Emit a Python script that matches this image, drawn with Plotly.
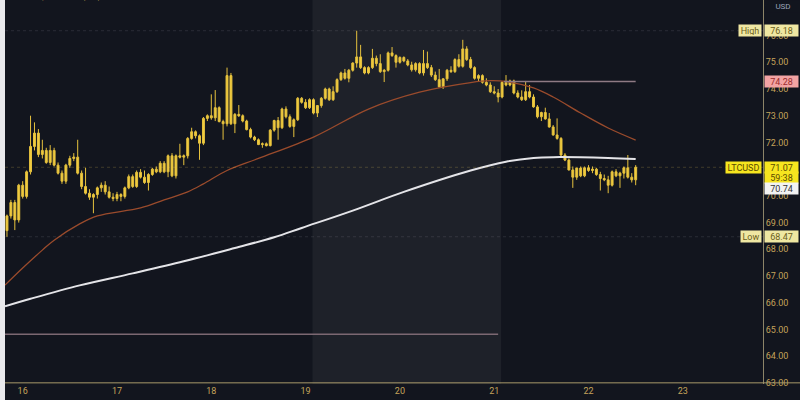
import pandas as pd
import plotly.graph_objects as go

# ---------------- data ----------------
start_time = "2022-11-15 20:00"

opens = [68.70,69.25,69.75,69.10,70.40,69.98,70.90,71.85,72.35,71.55,
         71.70,71.25,71.70,71.15,70.85,70.55,71.15,71.40,71.45,70.85,
         70.35,70.10,69.95,70.05,70.30,70.40,70.15,69.95,69.90,70.05,
         69.98,70.30,70.72,70.35,70.88,70.70,70.50,70.80,71.00,70.90,
         71.22,70.90,71.50,70.75,71.50,71.45,71.50,72.15,72.40,72.25,
         71.97,72.90,73.00,72.92,73.30,72.78,72.70,74.50,72.70,73.05,
         73.00,72.80,72.48,72.20,72.10,71.92,71.95,71.88,72.46,72.82,
         72.55,73.25,72.96,72.60,72.85,73.65,73.50,73.30,73.60,73.10,
         73.38,73.65,74.00,73.60,73.90,74.35,74.60,74.40,74.70,74.97,
         75.20,74.80,74.60,74.80,75.15,74.95,74.65,74.70,75.35,75.25,
         75.00,75.18,75.05,74.90,74.72,74.95,74.60,74.95,74.80,74.52,
         74.35,74.08,74.38,74.70,74.65,75.10,74.85,75.50,75.10,74.80,
         74.40,74.50,74.25,74.15,73.90,73.85,73.70,74.25,74.15,74.30,
         73.85,73.70,73.60,73.90,73.70,73.33,72.96,73.12,72.88,72.58,
         72.28,72.15,71.53,71.34,70.97,70.70,71.04,70.75,71.05,70.95,
         71.00,70.80,70.65,70.60,70.40,70.90,70.75,70.85,71.05,70.70,
         70.60]
highs = [69.30,69.85,69.85,70.45,70.55,70.95,73.00,72.75,72.50,72.10,
         71.80,71.90,71.80,71.25,70.95,71.20,71.50,71.60,72.10,70.95,
         71.05,70.25,70.10,70.35,70.50,70.55,70.35,70.10,70.15,70.10,
         70.35,70.80,70.80,70.95,71.00,70.95,70.85,71.05,71.10,71.30,
         71.30,71.55,71.60,71.55,71.95,71.55,72.20,72.55,72.45,72.30,
         72.95,73.05,73.80,73.96,73.35,72.85,74.80,74.60,73.10,73.40,
         73.05,72.85,72.55,72.25,72.15,72.00,72.00,72.50,72.85,72.95,
         73.30,73.35,73.05,72.90,73.70,73.70,73.62,73.65,73.65,73.40,
         73.70,74.05,74.05,74.10,74.40,74.65,74.75,74.75,75.00,76.18,
         75.65,74.85,74.85,75.50,75.25,75.30,74.75,75.40,75.57,75.30,
         75.22,75.22,75.12,75.02,75.00,75.00,75.46,75.40,74.90,74.65,
         74.75,74.40,74.75,74.85,75.15,75.30,75.84,75.60,75.20,74.85,
         74.55,74.55,74.40,74.25,74.10,74.00,74.30,74.52,74.35,74.35,
         73.95,73.95,74.30,74.15,73.80,73.40,73.15,73.30,73.10,72.65,
         72.90,72.20,71.60,71.40,71.10,71.05,71.10,71.10,71.15,71.10,
         71.05,70.90,70.80,70.75,70.95,71.00,70.90,71.10,71.53,70.85,
         71.15]
lows = [68.47,69.15,68.72,69.00,69.90,69.90,70.80,71.70,71.45,71.40,
        71.20,71.15,71.10,70.80,70.45,70.45,71.05,71.30,70.80,70.25,
        70.05,69.85,69.35,69.90,70.15,70.05,69.90,69.80,69.80,69.80,
        69.90,70.25,70.30,70.30,70.65,70.45,70.20,70.75,70.85,70.85,
        70.85,70.70,70.70,70.65,71.40,71.15,71.40,72.10,72.15,71.35,
        71.90,72.80,72.85,72.80,72.75,72.10,72.60,72.65,72.35,72.95,
        72.75,72.45,72.15,72.05,71.90,71.80,71.85,71.85,72.40,72.10,
        72.50,72.90,72.55,72.20,72.80,73.45,73.25,73.25,73.05,72.95,
        73.30,73.60,73.55,73.55,73.85,74.30,74.35,74.25,74.65,74.80,
        74.75,74.55,74.55,74.75,74.85,74.60,74.26,74.65,75.20,74.80,
        74.95,75.00,74.85,74.65,74.65,74.55,74.50,74.75,74.45,74.30,
        74.05,74.00,74.30,74.60,74.60,74.80,74.80,75.05,74.75,74.35,
        74.30,74.20,74.10,73.85,73.80,73.50,73.65,74.10,74.10,73.80,
        73.65,73.55,73.55,73.65,73.30,72.90,72.80,72.85,72.55,72.25,
        72.10,71.45,71.30,70.95,70.30,70.60,70.70,70.70,70.90,70.85,
        70.75,70.20,70.55,70.10,70.35,70.70,70.30,70.65,70.65,70.50,
        70.40]
closes = [69.25,69.75,69.10,70.40,69.98,70.90,71.85,72.35,71.55,71.70,
          71.25,71.70,71.15,70.85,70.55,71.15,71.40,71.45,70.85,70.35,
          70.10,69.95,70.05,70.30,70.40,70.15,69.95,69.90,70.05,69.98,
          70.30,70.72,70.35,70.88,70.70,70.50,70.80,71.00,70.90,71.22,
          70.90,71.50,70.75,71.50,71.45,71.50,72.15,72.40,72.25,71.97,
          72.90,73.00,72.92,73.30,72.78,72.70,74.50,72.70,73.05,73.00,
          72.80,72.48,72.20,72.10,71.92,71.95,71.88,72.46,72.82,72.55,
          73.25,72.96,72.60,72.85,73.65,73.50,73.30,73.60,73.10,73.38,
          73.65,74.00,73.60,73.90,74.35,74.60,74.40,74.70,74.97,75.20,
          74.80,74.60,74.80,75.15,74.95,74.65,74.70,75.35,75.25,75.00,
          75.18,75.05,74.90,74.72,74.95,74.60,74.95,74.80,74.52,74.35,
          74.08,74.38,74.70,74.65,75.10,74.85,75.50,75.10,74.80,74.40,
          74.50,74.25,74.15,73.90,73.85,73.70,74.25,74.15,74.30,73.85,
          73.70,73.60,73.90,73.70,73.33,72.96,73.12,72.88,72.58,72.28,
          72.15,71.53,71.34,70.97,70.70,71.04,70.75,71.05,70.95,71.00,
          70.80,70.65,70.60,70.40,70.90,70.75,70.85,71.05,70.70,70.60,
          71.07]

# 50-period MA (orange)
ma50_time = ["2022-11-15 19:30","2022-11-16 00:00","2022-11-16 05:00","2022-11-16 08:00",
             "2022-11-16 14:30","2022-11-16 19:00","2022-11-17 06:00","2022-11-17 12:00",
             "2022-11-17 18:00","2022-11-17 22:00","2022-11-18 04:00","2022-11-18 12:00",
             "2022-11-19 02:00","2022-11-19 16:00","2022-11-20 05:00","2022-11-20 18:00",
             "2022-11-20 23:00","2022-11-21 03:00","2022-11-21 10:00","2022-11-21 15:00",
             "2022-11-21 22:00","2022-11-22 05:00","2022-11-22 12:00"]
ma50_val = [66.66,67.30,67.97,68.34,68.95,69.25,69.55,69.85,70.15,70.45,70.95,71.40,
            72.20,73.25,73.88,74.24,74.31,74.28,74.04,73.70,73.10,72.54,72.09]

# 200-period MA (white)
ma200_time = ["2022-11-15 19:30","2022-11-16 02:00","2022-11-16 14:30","2022-11-17 04:00",
              "2022-11-17 17:00","2022-11-18 06:00","2022-11-18 16:00","2022-11-18 23:00",
              "2022-11-19 12:00","2022-11-20 01:00","2022-11-20 18:00","2022-11-21 03:00",
              "2022-11-21 10:00","2022-11-21 15:00","2022-11-22 05:00","2022-11-22 12:00"]
ma200_val = [65.87,66.15,66.65,67.10,67.55,68.05,68.45,68.80,69.45,70.15,70.95,71.28,
             71.42,71.45,71.42,71.38]

# horizontal levels
level_upper = 74.28
level_upper_span = ["2022-11-21 02:30", "2022-11-22 12:00"]
level_lower = 64.82
level_lower_span = ["2022-11-15 19:30", "2022-11-21 01:00"]
weekend_span = ["2022-11-19 01:45", "2022-11-21 01:45"]
x_range = ["2022-11-15 19:30", "2022-11-23 20:24"]
y_range = [62.96, 77.33]

high_val, low_val, last_val, mark_val = 76.18, 68.47, 71.07, 70.74
countdown = "59:38"
title_text = "Litecoin / U.S. Dollar, 1H, COINBASE"

# ---------------- figure ----------------
BG = "#12151e"
GOLD = "#c4a35a"
times = pd.date_range(start_time, periods=len(closes), freq="h")

fig = go.Figure()
fig.add_trace(go.Candlestick(
    x=times, open=opens, high=highs, low=lows, close=closes,
    increasing=dict(line=dict(color="#e6c23e", width=1), fillcolor="#f2cd3f"),
    decreasing=dict(line=dict(color="#e6c23e", width=1), fillcolor="#f2cd3f"),
    whiskerwidth=0, showlegend=False, hoverinfo="skip"))
fig.add_trace(go.Scatter(x=pd.to_datetime(ma50_time), y=ma50_val, mode="lines",
                         line=dict(color="#9a4b2c", width=1.3, shape="spline", smoothing=1.0),
                         showlegend=False, hoverinfo="skip"))
fig.add_trace(go.Scatter(x=pd.to_datetime(ma200_time), y=ma200_val, mode="lines",
                         line=dict(color="#e4e4e8", width=2, shape="spline", smoothing=1.0),
                         showlegend=False, hoverinfo="skip"))
fig.add_trace(go.Scatter(x=level_upper_span, y=[level_upper, level_upper], mode="lines",
                         line=dict(color="#8e7a84", width=1.6), showlegend=False, hoverinfo="skip"))
fig.add_trace(go.Scatter(x=level_lower_span, y=[level_lower, level_lower], mode="lines",
                         line=dict(color="#7c6872", width=1.4), showlegend=False, hoverinfo="skip"))

shapes = [
    dict(type="rect", xref="x", yref="paper", x0=weekend_span[0], x1=weekend_span[1],
         y0=0, y1=1, fillcolor="#1e2129", line=dict(width=0), layer="below"),
    dict(type="line", xref="paper", yref="y", x0=0, x1=1, y0=high_val, y1=high_val,
         line=dict(color="rgba(200,200,210,0.13)", width=1, dash="dot")),
    dict(type="line", xref="paper", yref="y", x0=0, x1=1, y0=low_val, y1=low_val,
         line=dict(color="rgba(200,200,210,0.13)", width=1, dash="dot")),
    dict(type="line", xref="paper", yref="y", x0=0, x1=1, y0=last_val, y1=last_val,
         line=dict(color="rgba(230,200,90,0.22)", width=1, dash="dot")),
    dict(type="line", xref="paper", yref="paper", x0=0, x1=1.05, y0=0.003, y1=0.003,
         line=dict(color="#a8996a", width=1)),
]

def box(text, y, bg, fg, left=True, yshift=0, width=31):
    return dict(xref="paper", yref="y", x=1.0, y=y, text=text, showarrow=False,
                xanchor="left" if left else "right", yanchor="middle",
                xshift=1 if left else -1, yshift=yshift,
                bgcolor=bg, width=width, height=9, borderpad=1,
                font=dict(size=9, color=fg, family="Roboto"))

annotations = [
    box(f"{high_val:.2f}", high_val, "#efe7a2", "#6b5e1a"),
    box("High", high_val, "#efe7a2", "#6b5e1a", left=False, width=20),
    box(f"{level_upper:.2f}", level_upper, "#f2a3a3", "#9b2c2c"),
    box(f"{last_val:.2f}", last_val, "#f6e51f", "#5a4a00"),
    box("LTCUSD", last_val, "#f6e51f", "#5a4a00", left=False, width=33),
    box(countdown, last_val, "#f6e51f", "#5a4a00", yshift=-10),
    box(f"{mark_val:.2f}", last_val, "#f2f2f2", "#333333", yshift=-21),
    box(f"{low_val:.2f}", low_val, "#efe7a2", "#6b5e1a"),
    box("Low", low_val, "#efe7a2", "#6b5e1a", left=False, width=18),
    dict(xref="paper", yref="paper", x=1.002, y=1.0, text="USD", showarrow=False,
         xanchor="left", yanchor="top", bgcolor=BG, width=32, height=9,
         font=dict(size=8, color="#9aa3b8", family="Roboto")),
    dict(xref="paper", yref="paper", x=0.006, y=1.0, yshift=3, text=title_text,
         showarrow=False, xanchor="left", yanchor="middle",
         font=dict(size=8, color="#d8b85a", family="Roboto")),
]

fig.update_layout(
    width=795, height=400,
    margin=dict(l=0, r=37, t=0, b=16),
    paper_bgcolor=BG, plot_bgcolor=BG,
    shapes=shapes, annotations=annotations,
    showlegend=False,
    xaxis=dict(type="date", range=x_range, rangeslider=dict(visible=False),
               showgrid=False, zeroline=False, tickformat="%d",
               tick0="2022-11-16", dtick=86400000, ticks="",
               tickfont=dict(size=9, color=GOLD, family="Roboto"), showline=False),
    yaxis=dict(side="right", range=y_range, dtick=1, tick0=63, tickformat=".2f",
               showgrid=False, zeroline=False, ticks="", showline=True,
               linecolor="#8c8468", linewidth=1,
               tickfont=dict(size=9, color=GOLD, family="Roboto")),
)

fig.write_html(
    "out.html",
    config={"displayModeBar": False},
    post_script=("document.body.style.margin='0';"
                 "document.body.style.overflow='hidden';"
                 "document.body.style.background='#e9e9ec';"
                 "document.querySelector('.plotly-graph-div').style.marginLeft='5px';"))
